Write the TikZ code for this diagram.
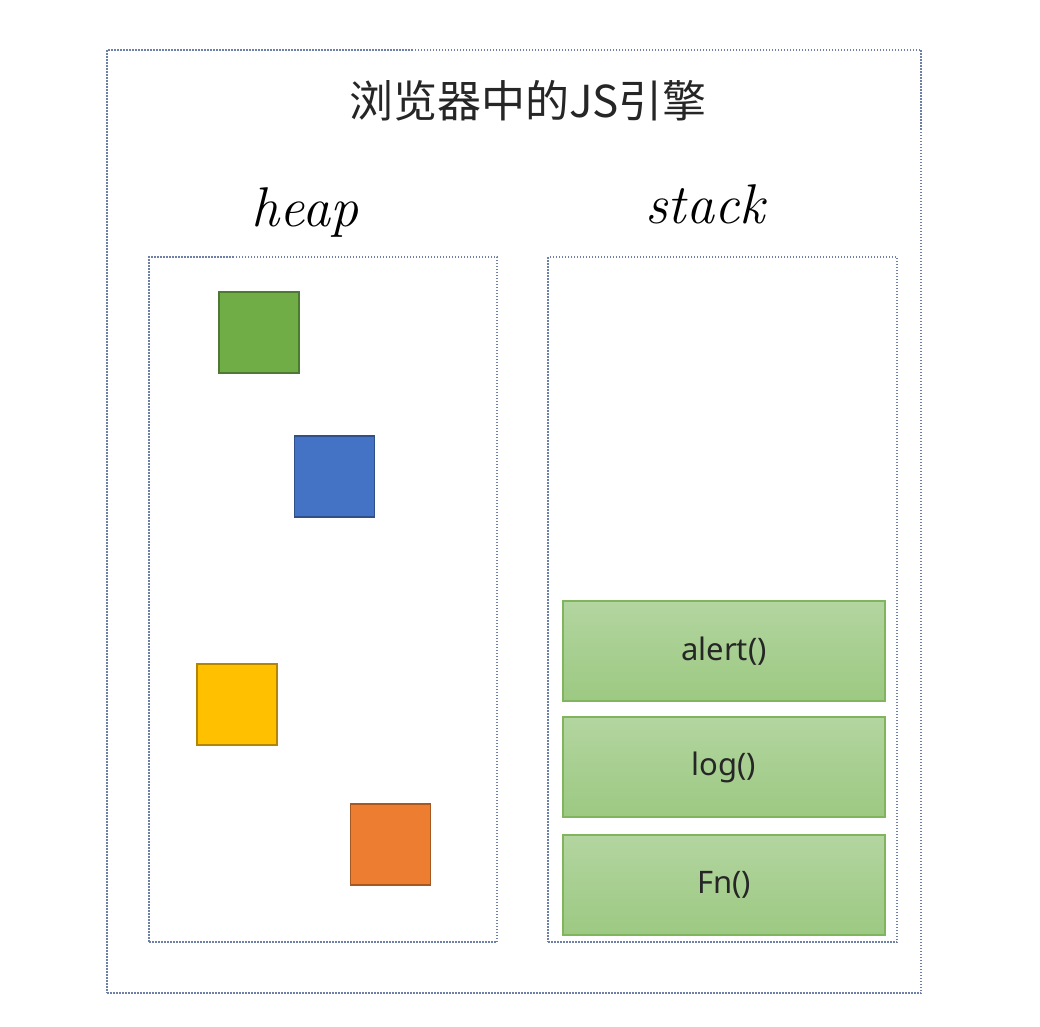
\documentclass[tikz,border=0pt]{standalone}
\usepackage{fontspec}
\usepackage{xcolor}
\usepackage{tikz}
\newfontfamily\cjk{Noto Sans CJK SC}
\newfontfamily\framefont{Noto Sans}
\definecolor{dotline}{HTML}{6F80A8}
\definecolor{sqgreen}{HTML}{70AD47}
\definecolor{sqblue}{HTML}{4472C4}
\definecolor{sqyellow}{HTML}{FFC000}
\definecolor{sqorange}{HTML}{ED7D31}
\definecolor{frametop}{HTML}{B3D5A0}
\definecolor{framebot}{HTML}{9CC982}
\definecolor{frameline}{HTML}{80B55E}
\tikzset{
  area/.style={draw=dotline, line width=1.5pt, dash pattern=on 1.5pt off 1.5pt, inner sep=0pt},
  obj/.style={draw=#1!70!black, fill=#1, line width=1.2pt, minimum width=80, minimum height=81, inner sep=0pt},
  frame/.style={draw=frameline, line width=1.3pt, top color=frametop, bottom color=framebot,
    minimum width=322, minimum height=100, inner sep=0pt, font=\framefont\fontsize{31}{34}\selectfont, text=black!85}
}
\begin{document}
\begin{tikzpicture}[x=1pt,y=-1pt]
      \useasboundingbox[fill=white] (0,0) rectangle (1040,1026);
      \node[area, minimum width=814, minimum height=943] (engine) at (514,521.5) {};
      \node[font=\cjk\fontsize{44}{48}\selectfont, text=black!85] (title) at (528,101) {浏览器中的JS引擎};
        % heap and stack
      \node[area, minimum width=348, minimum height=685] (heap) at (323,599.5) {};
      \node[area, minimum width=349, minimum height=685] (stack) at (722.5,599.5) {};
      \node[font=\itshape\fontsize{56}{60}\selectfont] (heaplbl) at (305,212) {heap};
      \node[font=\itshape\fontsize{56}{60}\selectfont] (stacklbl) at (705,204) {stack};
        % objects in the heap
      \node[obj=sqgreen] (objA) at (259,332.5) {};
      \node[obj=sqblue] (objB) at (334.5,476.5) {};
      \node[obj=sqyellow] (objC) at (237,704.5) {};
      \node[obj=sqorange] (objD) at (390.5,844.5) {};
        % call frames
      \node[frame] (alert) at (724,651) {alert()};
      \node[frame] (log) at (724,767) {log()};
      \node[frame] (fn) at (724,885) {Fn()};
    \end{tikzpicture}
\end{document}
